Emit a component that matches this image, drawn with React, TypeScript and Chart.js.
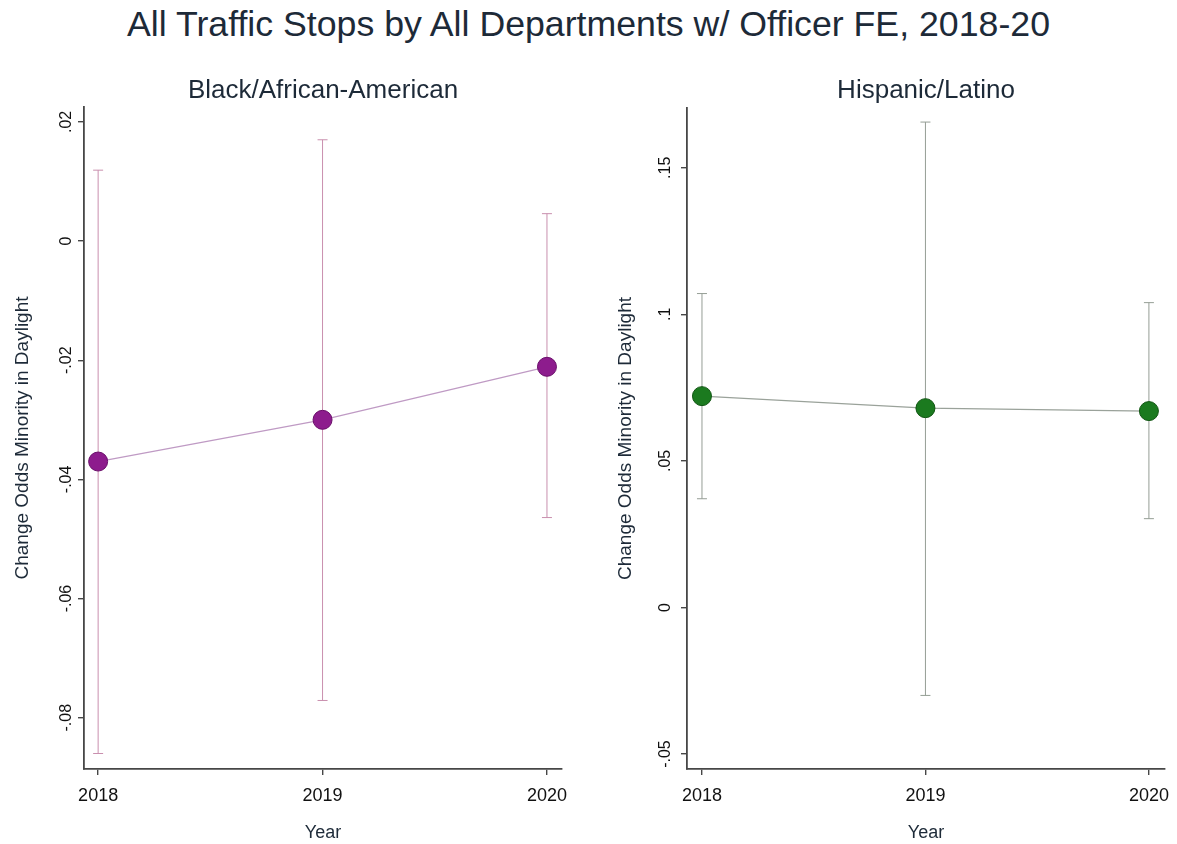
import React, { useEffect, useRef } from "react";
import { Chart, registerables } from "chart.js";

Chart.register(...registerables);

const FONT = '"Liberation Sans", Arial, Helvetica, sans-serif';
const TEXT_DARK = "#1d2a38";
const TICK_TEXT = "#111111";
const AXIS_COLOR = "#474747";

const mainTitle = "All Traffic Stops by All Departments w/ Officer FE, 2018-20";
const yAxisTitle = "Change Odds Minority in Daylight";
const xAxisTitle = "Year";

// Survey years on the horizontal axis
const years = [2018, 2019, 2020];
const yearLabels = ["2018", "2019", "2020"];

// Black/African-American: point estimates and confidence bounds
const blackEst = [-0.037, -0.03, -0.0211];
const blackLo = [-0.086, -0.0771, -0.0464];
const blackHi = [0.0119, 0.017, 0.0046];
const blackTicks = [0.02, 0, -0.02, -0.04, -0.06, -0.08];
const blackTickLabels = [".02", "0", "-.02", "-.04", "-.06", "-.08"];

// Hispanic/Latino: point estimates and confidence bounds
const hispEst = [0.0721, 0.068, 0.067];
const hispLo = [0.0371, -0.03, 0.0303];
const hispHi = [0.1071, 0.1656, 0.104];
const hispTicks = [0.15, 0.1, 0.05, 0, -0.05];
const hispTickLabels = [".15", ".1", ".05", "0", "-.05"];

type PanelSpec = {
  subtitle: string;
  est: number[];
  lo: number[];
  hi: number[];
  ticks: number[];
  tickLabels: string[];
  yMin: number;
  yMax: number;
  xMin: number;
  xMax: number;
  marker: string;
  markerEdge: string;
  line: string;
  bar: string;
  padding: { left: number; right: number; top: number; bottom: number };
  tickLabelOffset: number;
};

const panels: PanelSpec[] = [
  {
    subtitle: "Black/African-American",
    est: blackEst,
    lo: blackLo,
    hi: blackHi,
    ticks: blackTicks,
    tickLabels: blackTickLabels,
    yMin: -0.0886,
    yMax: 0.0225,
    xMin: 2017.937,
    xMax: 2020.067,
    marker: "#8d1c8d",
    markerEdge: "#6a0f6a",
    line: "#bf9ac4",
    bar: "#c98fae",
    padding: { left: 78, right: 26, top: 107, bottom: 69 },
    tickLabelOffset: 13,
  },
  {
    subtitle: "Hispanic/Latino",
    est: hispEst,
    lo: hispLo,
    hi: hispHi,
    ticks: hispTicks,
    tickLabels: hispTickLabels,
    yMin: -0.0551,
    yMax: 0.1704,
    xMin: 2017.933,
    xMax: 2020.072,
    marker: "#1b7a1f",
    markerEdge: "#105512",
    line: "#9aa29a",
    bar: "#959e95",
    padding: { left: 93, right: 12, top: 108, bottom: 69 },
    tickLabelOffset: 17,
  },
];

function makeLabelPlugin(spec: PanelSpec) {
  return {
    id: "panelLabels",
    afterDraw(chart: any) {
      const { ctx, chartArea, scales } = chart;
      const xs = scales.x;
      const ys = scales.y;
      const cx = (chartArea.left + chartArea.right) / 2;
      const cy = (chartArea.top + chartArea.bottom) / 2;
      ctx.save();

      // panel subtitle
      ctx.fillStyle = TEXT_DARK;
      ctx.font = `26px ${FONT}`;
      ctx.textAlign = "center";
      ctx.textBaseline = "alphabetic";
      ctx.fillText(spec.subtitle, cx, 98);

      // x tick labels and title
      ctx.fillStyle = TICK_TEXT;
      ctx.font = `18px ${FONT}`;
      years.forEach((v, i) => {
        ctx.fillText(yearLabels[i], xs.getPixelForValue(v), 801);
      });
      ctx.fillStyle = TEXT_DARK;
      ctx.fillText(xAxisTitle, cx, 838);

      // y tick labels, rotated
      ctx.fillStyle = TICK_TEXT;
      ctx.font = `16px ${FONT}`;
      spec.ticks.forEach((v, i) => {
        ctx.save();
        ctx.translate(chartArea.left - spec.tickLabelOffset, ys.getPixelForValue(v));
        ctx.rotate(-Math.PI / 2);
        ctx.textAlign = "center";
        ctx.textBaseline = "alphabetic";
        ctx.fillText(spec.tickLabels[i], 0, 0);
        ctx.restore();
      });

      // y axis title, rotated
      ctx.fillStyle = TEXT_DARK;
      ctx.font = `19px ${FONT}`;
      ctx.translate(chartArea.left - 56, cy);
      ctx.rotate(-Math.PI / 2);
      ctx.textAlign = "center";
      ctx.textBaseline = "alphabetic";
      ctx.fillText(yAxisTitle, 0, 0);
      ctx.restore();
    },
  };
}

function Panel({ spec, left, width }: { spec: PanelSpec; left: number; width: number }) {
  const ref = useRef<HTMLCanvasElement>(null);

  useEffect(() => {
    const canvas = ref.current;
    if (!canvas) return;

    const estimate = years.map((x, i) => ({ x, y: spec.est[i] }));
    const intervals = years.map((x, i) => ({
      type: "line" as const,
      data: [
        { x, y: spec.lo[i] },
        { x, y: spec.hi[i] },
      ],
      borderColor: spec.bar,
      borderWidth: 1,
      pointStyle: "line" as const,
      pointRadius: 5,
      pointHoverRadius: 5,
      pointBorderColor: spec.bar,
      pointBorderWidth: 1,
      fill: false,
    }));

    const chart = new Chart(canvas, {
      type: "line",
      data: {
        datasets: [
          {
            data: estimate,
            borderColor: spec.line,
            borderWidth: 1.2,
            pointRadius: 9.5,
            pointHoverRadius: 9.5,
            pointBackgroundColor: spec.marker,
            pointBorderColor: spec.markerEdge,
            pointBorderWidth: 1,
            tension: 0,
            fill: false,
          },
          ...intervals,
        ],
      },
      options: {
        animation: false,
        responsive: false,
        devicePixelRatio: 1,
        events: [],
        layout: { padding: spec.padding },
        plugins: { legend: { display: false }, tooltip: { enabled: false } },
        scales: {
          x: {
            type: "linear",
            min: spec.xMin,
            max: spec.xMax,
            afterBuildTicks: (s: any) => {
              s.ticks = years.map((v) => ({ value: v }));
            },
            afterFit: (s: any) => {
              s.height = 6;
            },
            ticks: { display: false },
            grid: {
              display: true,
              drawOnChartArea: false,
              drawTicks: true,
              tickLength: 6,
              color: AXIS_COLOR,
              lineWidth: 1.4,
            },
            border: { display: true, color: AXIS_COLOR, width: 1.8 },
          },
          y: {
            type: "linear",
            min: spec.yMin,
            max: spec.yMax,
            afterBuildTicks: (s: any) => {
              s.ticks = spec.ticks.map((v) => ({ value: v }));
            },
            afterFit: (s: any) => {
              s.width = 6;
            },
            ticks: { display: false },
            grid: {
              display: true,
              drawOnChartArea: false,
              drawTicks: true,
              tickLength: 6,
              color: AXIS_COLOR,
              lineWidth: 1.4,
            },
            border: { display: true, color: AXIS_COLOR, width: 1.8 },
          },
        },
      },
      plugins: [makeLabelPlugin(spec)],
    } as any);

    return () => chart.destroy();
  }, [spec]);

  return (
    <canvas
      ref={ref}
      width={width}
      height={844}
      style={{ position: "absolute", left, top: 0, width, height: 844 }}
    />
  );
}

export default function App() {
  return (
    <div
      style={{
        position: "absolute",
        left: 0,
        top: 0,
        width: 1177,
        height: 844,
        background: "#ffffff",
        overflow: "hidden",
      }}
    >
      <div
        style={{
          position: "absolute",
          left: 0,
          top: 7,
          width: 1177,
          textAlign: "center",
          fontFamily: FONT,
          fontSize: 35.7,
          lineHeight: "35px",
          color: TEXT_DARK,
          whiteSpace: "nowrap",
        }}
      >
        {mainTitle}
      </div>
      <Panel spec={panels[0]} left={0} width={588} />
      <Panel spec={panels[1]} left={588} width={589} />
    </div>
  );
}
